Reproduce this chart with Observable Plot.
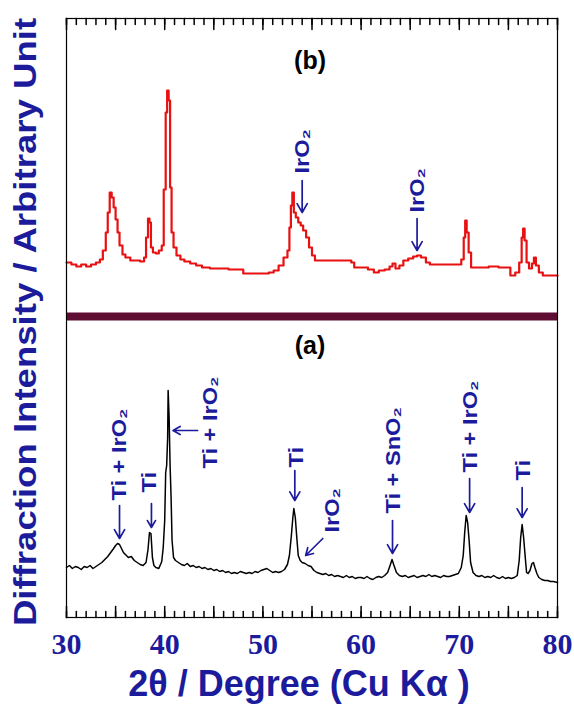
<!DOCTYPE html>
<html><head><meta charset="utf-8">
<script src="https://cdn.jsdelivr.net/npm/d3@7"></script>
<script src="https://cdn.jsdelivr.net/npm/@observablehq/plot@0.6"></script>
<style>body{margin:0;background:#fff}</style>
</head><body><div id="chart"></div>
<script>
// ---- data (2θ in degrees, intensity in arbitrary units, panel (b) stacked above panel (a)) ----
const redTheta = [30.0,30.5,31.0,31.5,32.0,32.5,33.0,33.4,33.7,34.0,34.2,34.4,34.6,34.8,35.0,35.2,35.4,35.7,36.0,36.5,37.0,37.5,37.9,38.1,38.3,38.45,38.6,38.8,39.1,39.4,39.7,39.9,40.1,40.25,40.4,40.55,40.7,40.9,41.2,41.6,42.0,42.6,43.2,43.8,44.6,45.5,46.5,47.7,48.0,49.0,50.0,50.6,51.1,51.6,52.1,52.5,52.7,52.85,53.0,53.15,53.35,53.6,53.85,54.1,54.4,54.7,55.0,55.3,55.6,56.5,57.5,58.5,59.0,59.3,60.0,60.7,61.3,61.8,62.4,62.9,63.2,63.5,63.9,64.3,64.8,65.3,65.7,66.1,66.6,67.0,68.0,69.0,69.8,70.2,70.45,70.6,70.75,70.95,71.2,72.0,73.0,74.0,74.9,75.2,75.7,76.1,76.35,76.5,76.65,76.85,77.1,77.4,77.6,77.8,78.1,78.5,79.0,79.5,80.0];
const redIntensity = [355,353,351,353,351,353,355,358,367,385,405,425,420,410,398,385,372,363,360,357,357,356,360,380,399,395,370,365,364,367,372,428,505,527,517,430,385,370,362,358,356,354,352,350,349,349,348,348,344,344,344,345,347,352,360,367,390,412,425,405,400,395,392,387,380,370,362,357,357,357,357,357,355,350,350,348,345,347,348,351,354,349,352,357,359,361,362,360,355,353,353,353,353,358,380,397,385,365,350,350,351,350,350,342,345,355,380,389,377,355,349,354,360,352,345,342,342,342,342];

const blackTheta = [30.0,30.3,30.6,30.9,31.2,31.5,31.8,32.1,32.4,32.7,33.0,33.3,33.6,33.9,34.2,34.5,34.8,35.0,35.2,35.4,35.6,35.8,36.0,36.3,36.6,36.9,37.2,37.5,37.8,38.1,38.3,38.45,38.6,38.75,38.9,39.1,39.4,39.7,39.85,40.0,40.1,40.2,40.3,40.35,40.45,40.55,40.65,40.75,40.9,41.1,41.4,41.7,42.0,42.3,42.6,42.9,43.2,43.5,43.8,44.1,44.4,44.7,45.0,45.3,45.6,45.9,46.2,46.5,46.8,47.1,47.4,47.7,48.0,48.3,48.6,48.9,49.2,49.5,49.8,50.1,50.4,50.7,51.0,51.3,51.6,51.9,52.2,52.5,52.7,52.9,53.05,53.15,53.3,53.45,53.6,53.8,54.0,54.3,54.6,54.9,55.2,55.5,55.8,56.1,56.4,56.7,57.0,57.3,57.6,57.9,58.2,58.5,58.8,59.1,59.4,59.7,60.0,60.3,60.6,60.9,61.2,61.5,61.8,62.1,62.4,62.7,62.95,63.15,63.35,63.6,63.9,64.2,64.5,64.8,65.1,65.4,65.7,66.0,66.3,66.6,66.9,67.2,67.5,67.8,68.1,68.4,68.7,69.0,69.3,69.6,69.9,70.2,70.4,70.55,70.7,70.85,71.0,71.15,71.4,71.7,72.0,72.3,72.6,72.9,73.2,73.5,73.8,74.1,74.4,74.7,75.0,75.3,75.6,75.9,76.1,76.25,76.4,76.55,76.7,76.85,77.0,77.2,77.4,77.55,77.7,77.9,78.1,78.4,78.7,79.0,79.3,79.6,80.0];
const blackIntensity = [50,52,49,51,50,48,51,50,52,49,51,53,55,58,61,65,69,72,74,73,69,65,63,60,61,57,55,53,52,55,68,85,84,60,52,50,49,56,70,97,145,152,180,227,200,152,120,77,60,57,55,53,52,54,51,52,50,51,49,50,48,49,47,48,46,47,45,46,44,45,44,46,45,44,45,44,46,45,47,48,49,47,45,46,45,46,48,53,62,82,100,109,100,80,62,57,55,54,52,51,47,45,44,43,44,42,43,41,42,41,40,42,40,41,39,40,40,39,41,39,38,40,41,40,42,45,52,58,52,45,42,41,42,40,41,42,40,41,42,41,43,41,42,41,40,42,41,41,42,43,44,50,62,85,102,95,77,55,45,42,41,42,40,41,40,42,40,39,41,39,40,39,40,42,57,80,93,80,62,45,44,47,54,55,50,44,40,38,37,37,36,36,35];

const xTickLabels = [30, 40, 50, 60, 70, 80];
const majorTicks = d3.range(30, 81, 5);
const minorTicks = d3.range(30, 81, 1);
const dividerLevel = [301];

const panelLabels = ["(b)", "(a)"];
const panelTheta = [54.8, 54.8];
const panelLevel = [557, 272];

const annLabel = ["Ti + IrO₂", "Ti", "Ti + IrO₂", "Ti", "IrO₂", "Ti + SnO₂", "Ti + IrO₂", "Ti", "IrO₂", "IrO₂"];
const annTheta = [35.4, 38.5, 44.65, 53.45, 57.1, 63.35, 71.2, 76.5, 54.05, 65.8];
const annLevel = [117, 125, 149, 150, 85, 104, 145, 137, 444, 405];

const arrowX1 = [35.4, 38.65, 43.35, 53.25, 56.1, 63.2, 71.05, 76.4, 54.0, 65.7];
const arrowY1 = [112, 114, 187, 147, 79, 97, 139, 130, 437, 399];
const arrowX2 = [35.4, 38.65, 40.85, 53.25, 54.35, 63.2, 71.05, 76.4, 54.0, 65.7];
const arrowY2 = [79, 90, 187, 117, 62, 64, 105, 100, 405, 367];

const yTitle = "Diffraction Intensity / Arbitrary Unit";
const xTitle = "2θ / Degree (Cu Kα )";

// ---- build tables ----
const redData = redTheta.map((t, i) => ({t, v: redIntensity[i]}));
const blackData = blackTheta.map((t, i) => ({t, v: blackIntensity[i]}));
const panels = panelLabels.map((label, i) => ({label, t: panelTheta[i], v: panelLevel[i]}));
const anns = annLabel.map((label, i) => ({label, t: annTheta[i], v: annLevel[i]}));
const arrows = arrowX1.map((x1, i) => ({x1, y1: arrowY1[i], x2: arrowX2[i], y2: arrowY2[i]}));

const blue = "#1b1b9c";
const tickShape = {draw(context, l) { context.moveTo(0, 0); context.lineTo(0, -l); }};

const plot = Plot.plot({
  width: 574,
  height: 715,
  marginLeft: 66,
  marginRight: 17,
  marginTop: 18,
  marginBottom: 98,
  x: {domain: [30, 80]},
  y: {domain: [0, 599], axis: null},
  style: {background: "white", overflow: "visible"},
  marks: [
    Plot.ruleY(dividerLevel, {stroke: "#600d34", strokeWidth: 8}),
    Plot.line(redData, {x: "t", y: "v", stroke: "#e81010", strokeWidth: 2.2, curve: "step-after"}),
    Plot.line(blackData, {x: "t", y: "v", stroke: "black", strokeWidth: 1.5}),
    Plot.frame({stroke: "black", strokeWidth: 1.2}),
    Plot.vector(minorTicks, {x: d => d, frameAnchor: "bottom", anchor: "start", length: 6, rotate: 0, shape: tickShape, stroke: "black"}),
    Plot.vector(majorTicks, {x: d => d, frameAnchor: "bottom", anchor: "start", length: 11, rotate: 0, shape: tickShape, stroke: "black"}),
    Plot.vector(minorTicks, {x: d => d, frameAnchor: "top", anchor: "start", length: 6, rotate: 180, shape: tickShape, stroke: "black"}),
    Plot.vector(majorTicks, {x: d => d, frameAnchor: "top", anchor: "start", length: 11, rotate: 180, shape: tickShape, stroke: "black"}),
    Plot.axisX(xTickLabels, {anchor: "bottom", tickSize: 0, tickPadding: 15, fontSize: 30, fontFamily: "Liberation Serif, Times New Roman, serif", fontWeight: "bold", fill: blue}),
    Plot.text(panels, {x: "t", y: "v", text: "label", fontSize: 25, fontWeight: "bold", fontFamily: "Liberation Sans, Arial, sans-serif", fill: "black"}),
    Plot.arrow(arrows, {x1: "x1", y1: "y1", x2: "x2", y2: "y2", stroke: blue, strokeWidth: 1.7, headLength: 9}),
    Plot.text(anns, {x: "t", y: "v", text: "label", rotate: -90, textAnchor: "start", lineAnchor: "middle", fontSize: 20, fontWeight: "bold", fontFamily: "Liberation Sans, Arial, sans-serif", fill: blue, ariaDescription: "ann"}),
    Plot.text([yTitle], {frameAnchor: "left", textAnchor: "middle", lineAnchor: "middle", dx: -40, dy: 4, rotate: -90, fontSize: 31, fontWeight: "bold", fontFamily: "Liberation Sans, Arial, sans-serif", fill: blue, ariaDescription: "ytitle"}),
    Plot.text([xTitle], {frameAnchor: "bottom", textAnchor: "middle", dx: -13, dy: 78, fontSize: 36, fontWeight: "bold", fontFamily: "Liberation Sans, Arial, sans-serif", fill: blue})
  ]
});

plot.querySelectorAll('g[aria-description="ann"] text').forEach(t => t.setAttribute("transform", t.getAttribute("transform") + " scale(1.18,1)"));
plot.querySelectorAll('g[aria-description="ytitle"] text').forEach(t => t.setAttribute("transform", t.getAttribute("transform") + " scale(1.18,1)"));

document.getElementById("chart").append(plot);
</script>
</body></html>
